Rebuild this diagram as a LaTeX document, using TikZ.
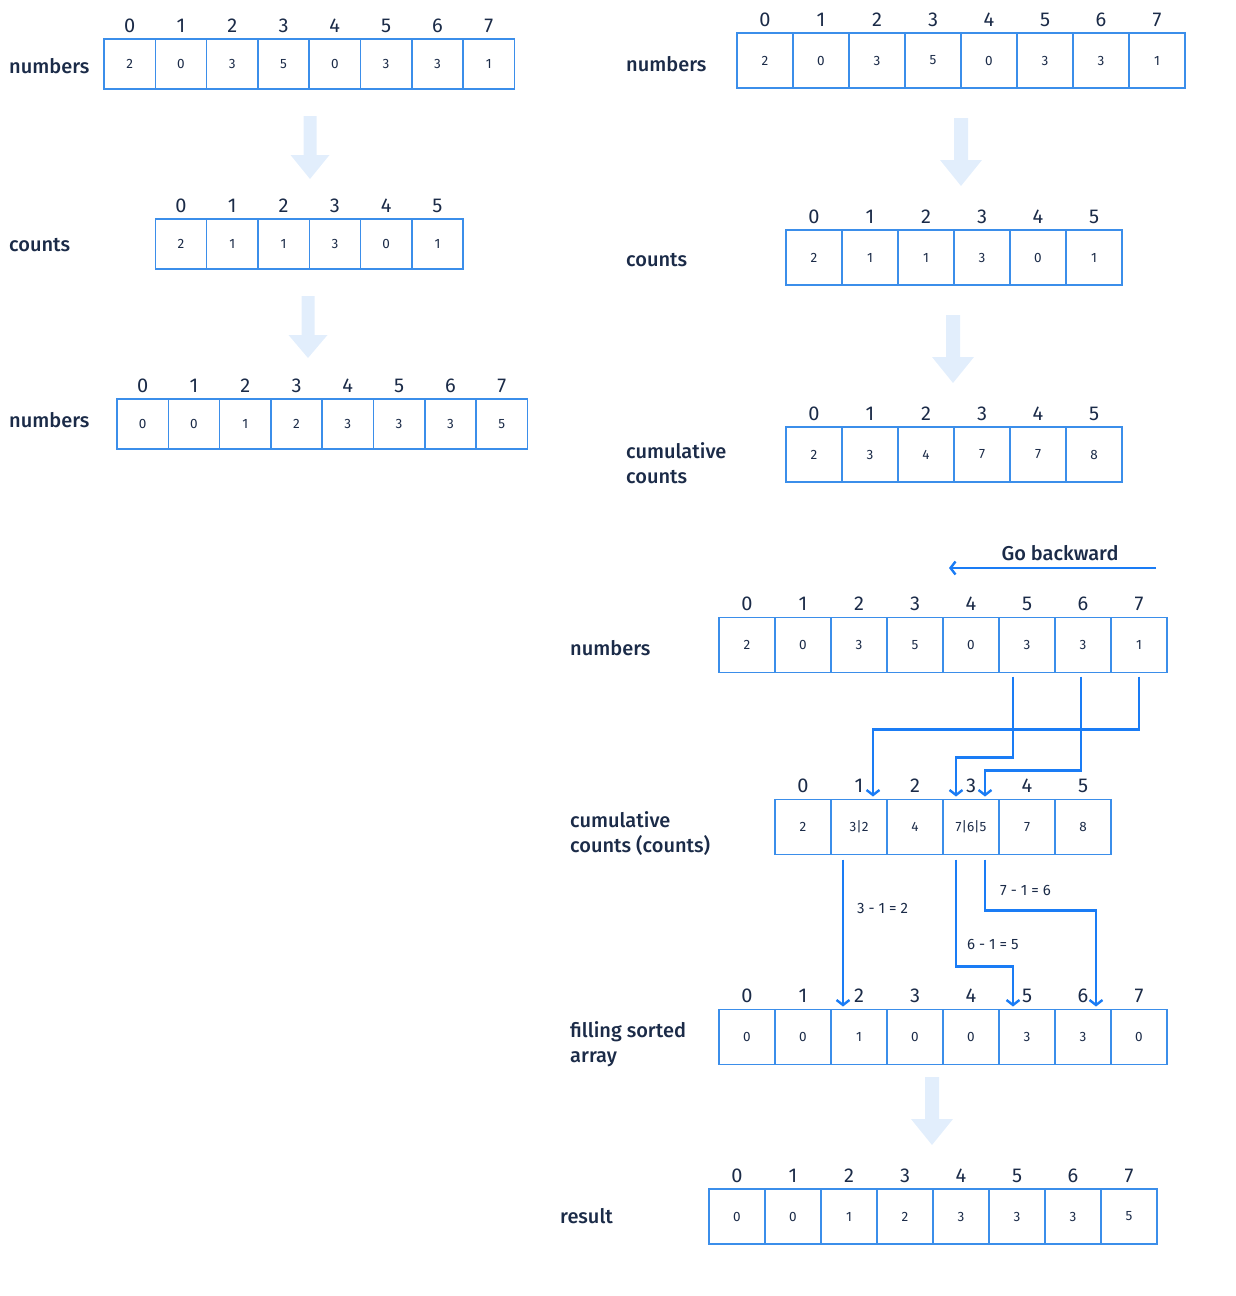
\documentclass[tikz,border=0pt]{standalone}
\usepackage{fontspec}
\setmainfont{Fira Sans}
\newfontfamily\labelfont{Fira Sans Medium}
\usetikzlibrary{arrows.meta}
\definecolor{boxblue}{HTML}{3B8EEA}
\definecolor{linkblue}{HTML}{1A7CF5}
\definecolor{pale}{HTML}{E2EEFC}
\definecolor{ink}{HTML}{1B2B48}
\tikzset{
  cell/.style={draw=boxblue, line width=1.5pt, inner sep=0pt, outer sep=0pt,
    text=ink, font=\fontsize{13.5}{15}\selectfont},
  small cell/.style={cell, minimum width=51.3pt, minimum height=50pt},
  big cell/.style={cell, minimum width=56pt, minimum height=55pt},
  idx/.style={text=ink, inner sep=0pt, anchor=base, font=\fontsize{20}{22}\selectfont},
  lbl/.style={text=ink, inner sep=0pt, align=left,
    font=\labelfont\fontsize{20}{25}\selectfont},
  link/.style={draw=linkblue, line width=2.4pt,
    -{Straight Barb[length=5pt, width=13pt]}},
  calc/.style={text=ink, inner sep=0pt, font=\fontsize{15}{18}\selectfont}
}
\begin{document}
\begin{tikzpicture}[x=1pt, y=-1pt]
  \useasboundingbox (0,0) rectangle (1236,1296);

  % left column: numbers, counts, sorted numbers
  \foreach \v [count=\i from 0] in {2,0,3,5,0,3,3,1} {
    \node[small cell] (lnum-\i) at (129.6+\i*51.3, 64) {\v};
    \node[idx] (lnum-\i-i) at ([yshift=6.5pt]lnum-\i.north) {\i};
  }
  \foreach \v [count=\i from 0] in {2,1,1,3,0,1} {
    \node[small cell] (lcnt-\i) at (181+\i*51.3, 244) {\v};
    \node[idx] (lcnt-\i-i) at ([yshift=6.5pt]lcnt-\i.north) {\i};
  }
  \foreach \v [count=\i from 0] in {0,0,1,2,3,3,3,5} {
    \node[small cell] (lsrt-\i) at (142.6+\i*51.3, 424) {\v};
    \node[idx] (lsrt-\i-i) at ([yshift=6.5pt]lsrt-\i.north) {\i};
  }

  \node[lbl, anchor=base west] (lnumlbl) at (9,73) {numbers};
  \node[lbl, anchor=base west] (lcntlbl) at (9,251) {counts};
  \node[lbl, anchor=base west] (lsrtlbl) at (9,427) {numbers};

  % pale arrows between left steps
  \fill[pale] (303.5,116) -- (316.5,116) -- (316.5,155) -- (329.5,155)
    -- (310,179) -- (290.5,155) -- (303.5,155) -- cycle;
  \fill[pale] (301.5,296) -- (314.5,296) -- (314.5,335) -- (327.5,335)
    -- (308,358) -- (288.5,335) -- (301.5,335) -- cycle;

  % right column: numbers, counts, cumulative counts
  \foreach \v [count=\i from 0] in {2,0,3,5,0,3,3,1} {
    \node[big cell] (rnum-\i) at (765+\i*56, 60.5) {\v};
    \node[idx] (rnum-\i-i) at ([yshift=7pt]rnum-\i.north) {\i};
  }
  \foreach \v [count=\i from 0] in {2,1,1,3,0,1} {
    \node[big cell] (rcnt-\i) at (814+\i*56, 257.5) {\v};
    \node[idx] (rcnt-\i-i) at ([yshift=7pt]rcnt-\i.north) {\i};
  }
  \foreach \v [count=\i from 0] in {2,3,4,7,7,8} {
    \node[big cell] (rcum-\i) at (814+\i*56, 454.5) {\v};
    \node[idx] (rcum-\i-i) at ([yshift=7pt]rcum-\i.north) {\i};
  }

  \node[lbl, anchor=base west] (rnumlbl) at (626,71) {numbers};
  \node[lbl, anchor=base west] (rcntlbl) at (626,266) {counts};
  \node[lbl, anchor=west] (rcumlbl) at (626,463) {cumulative\\counts};

  \fill[pale] (954,118) -- (968,118) -- (968,160) -- (982,160)
    -- (961,186) -- (940,160) -- (954,160) -- cycle;
  \fill[pale] (946,315) -- (960,315) -- (960,357) -- (974,357)
    -- (953,383) -- (932,357) -- (946,357) -- cycle;

  % go backward
  \node[lbl] (back) at (1060,553) {Go backward};
  \coordinate (backR) at (1156,568);
  \coordinate (backL) at (949,568);
  \draw[link] (backR) -- (backL);

  % numbers, cumulative counts, filling sorted array, result
  \foreach \v [count=\i from 0] in {2,0,3,5,0,3,3,1} {
    \node[big cell] (bnum-\i) at (747+\i*56, 645) {\v};
    \node[idx] (bnum-\i-i) at ([yshift=7pt]bnum-\i.north) {\i};
  }
  \foreach \v [count=\i from 0] in {2,3|2,4,7|6|5,7,8} {
    \node[big cell] (bcum-\i) at (803+\i*56, 827) {\v};
    \node[idx] (bcum-\i-i) at ([yshift=7pt]bcum-\i.north) {\i};
  }
  \foreach \v [count=\i from 0] in {0,0,1,0,0,3,3,0} {
    \node[big cell] (fill-\i) at (747+\i*56, 1037) {\v};
    \node[idx] (fill-\i-i) at ([yshift=7pt]fill-\i.north) {\i};
  }
  \foreach \v [count=\i from 0] in {0,0,1,2,3,3,3,5} {
    \node[big cell] (res-\i) at (737+\i*56, 1216.5) {\v};
    \node[idx] (res-\i-i) at ([yshift=7pt]res-\i.north) {\i};
  }

  \node[lbl, anchor=base west] (bnumlbl) at (570,655) {numbers};
  \node[lbl, anchor=west] (bcumlbl) at (570,834) {cumulative\\counts (counts)};
  \node[lbl, anchor=west] (filllbl) at (570,1044) {filling sorted\\array};
  \node[lbl, anchor=base west] (reslbl) at (560,1223) {result};

  % numbers into cumulative counts
  \draw[link] ([yshift=-4pt]bnum-7.south) -- ++(0,53)
    -| ([xshift=14pt,yshift=3pt]bcum-1.north);
  \draw[link] ([xshift=-14pt,yshift=-4pt]bnum-5.south) -- ++(0,81)
    -| ([xshift=-15pt,yshift=3pt]bcum-3.north);
  \draw[link] ([xshift=-2pt,yshift=-4pt]bnum-6.south) -- ++(0,94)
    -| ([xshift=14pt,yshift=3pt]bcum-3.north);

  % cumulative counts into filling
  \draw[link] ([xshift=-16pt,yshift=-5pt]bcum-1.south)
    -- node[calc, pos=0.33, right=13pt] {3 - 1 = 2} ([xshift=-16pt,yshift=3pt]fill-2.north);
  \draw[link] ([xshift=-15pt,yshift=-5pt]bcum-3.south)
    -- node[calc, pos=0.79, right=10pt] {6 - 1 = 5} ++(0,107)
    -| ([xshift=-14pt,yshift=3pt]fill-5.north);
  \draw[link] ([xshift=14pt,yshift=-5pt]bcum-3.south)
    -- node[calc, pos=0.6, right=14pt] {7 - 1 = 6} ++(0,51)
    -| ([xshift=13pt,yshift=3pt]fill-6.north);

  \fill[pale] (925,1077) -- (939,1077) -- (939,1119) -- (953,1119)
    -- (932,1145) -- (911,1119) -- (925,1119) -- cycle;
\end{tikzpicture}
\end{document}
